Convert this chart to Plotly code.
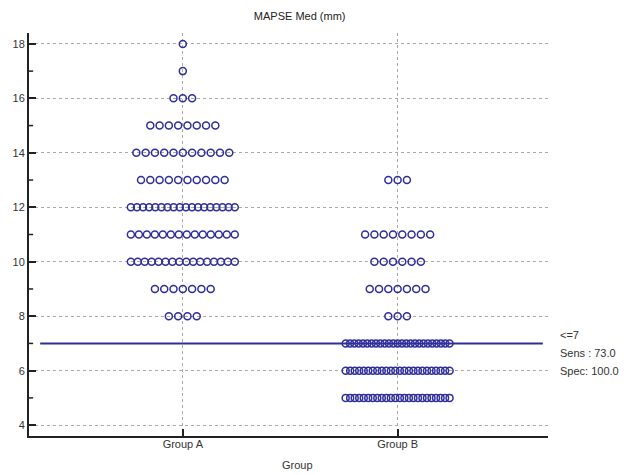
import plotly.graph_objects as go

title = "MAPSE Med (mm)"
x_title = "Group"
categories = ["Group A", "Group B"]
values = [5, 6, 7, 8, 9, 10, 11, 12, 13, 14, 15, 16, 17, 18]
counts_a = [0, 0, 0, 4, 7, 16, 14, 18, 10, 11, 8, 3, 1, 1]
counts_b = [24, 24, 25, 3, 7, 6, 8, 0, 3, 0, 0, 0, 0, 0]
cutoff = 7
cutoff_text = ["<=7", "Sens : 73.0", "Spec: 100.0"]
y_ticks = [4, 6, 8, 10, 12, 14, 16, 18]

dot_color = "#2e2e9c"
px_per_unit = 215.0
spacing = 9.3 / px_per_unit
max_width = 112.0 / px_per_unit

fig = go.Figure()
for gi, counts in enumerate([counts_a, counts_b]):
    xs, ys = [], []
    for v, n in zip(values, counts):
        if n == 0:
            continue
        s = spacing if n == 1 else min(spacing, (max_width - 8 / px_per_unit) / (n - 1))
        for k in range(n):
            xs.append(gi + (k - (n - 1) / 2) * s)
            ys.append(v)
    fig.add_trace(go.Scatter(x=xs, y=ys, mode="markers",
                             marker=dict(symbol="circle-open", size=7,
                                         line=dict(width=1.5, color=dot_color),
                                         color=dot_color),
                             showlegend=False, hoverinfo="skip"))

x0, x1 = -0.716, 1.70
fig.add_shape(type="line", xref="x", yref="y", x0=-0.664, x1=1.676,
              y0=cutoff, y1=cutoff, line=dict(color="#2e2e9c", width=2))

for i, t in enumerate(cutoff_text):
    fig.add_annotation(xref="paper", yref="y", x=1.02, y=cutoff + 0.3 - i * 0.65,
                       text=t, showarrow=False, xanchor="left", yanchor="middle",
                       font=dict(size=11, color="#333333", family="Liberation Sans"))

fig.add_annotation(xref="paper", yref="paper", x=0.518, y=-0.072, text=x_title,
                   showarrow=False, xanchor="center", yanchor="middle",
                   font=dict(size=11, color="#333333", family="Liberation Sans"))

# minor tick marks at odd values
for v in range(5, 19, 2):
    fig.add_shape(type="line", xref="paper", yref="y", x0=0, x1=0.008,
                  y0=v, y1=v, line=dict(color="#222222", width=1.5))

fig.update_layout(
    width=630, height=467,
    margin=dict(l=21, r=90, t=25, b=39),
    plot_bgcolor="white", paper_bgcolor="white",
    title=dict(text=title, x=0.463, xanchor="center", y=0.99, yanchor="top",
               font=dict(size=11, color="#222222", family="Liberation Sans")),
    font=dict(family="Liberation Sans", size=11, color="#333333"),
    xaxis=dict(range=[x0, x1], tickvals=[0, 1], ticktext=categories,
               automargin=False, ticklabelstandoff=-3,
               showgrid=True, gridcolor="#aaaaaa", griddash="3px,3px", gridwidth=1,
               showline=True, linecolor="#222222", linewidth=2,
               ticks="inside", ticklen=7, tickwidth=2, tickcolor="#222222",
               zeroline=False),
    yaxis=dict(range=[3.6, 18.4], tickvals=y_ticks, automargin=False,
               showgrid=True, gridcolor="#aaaaaa", griddash="3px,3px", gridwidth=1,
               showline=True, linecolor="#222222", linewidth=2,
               ticks="inside", ticklen=7, tickwidth=2, tickcolor="#222222",
               zeroline=False, tickfont=dict(size=11, color="#333333")),
)

fig.write_html("out.html")
